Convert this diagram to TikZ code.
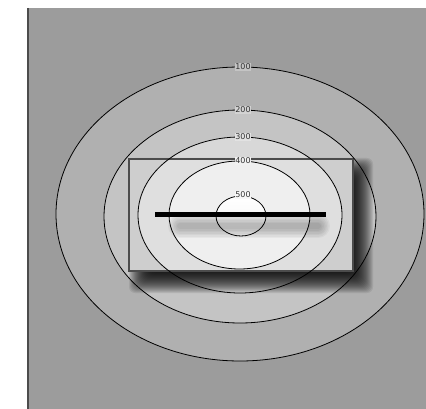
\documentclass[tikz,border=0pt]{standalone}
\usepackage{fontspec}
\setmainfont{DejaVu Sans}
\definecolor{bgout}{HTML}{9C9C9C}
\definecolor{ringA}{HTML}{B0B0B0}
\definecolor{ringB}{HTML}{C4C4C4}
\definecolor{ringC}{HTML}{D8D8D8}
\definecolor{ringD}{HTML}{ECECEC}
\definecolor{labelgray}{HTML}{333333}
\tikzset{
  contour/.style={draw=black, line width=0.8pt},
  lvl/.style={font=\fontsize{8}{8}\selectfont, text=labelgray, inner sep=0.5pt},
}
\begin{document}
\begin{tikzpicture}[x=1pt,y=-1pt]
\useasboundingbox (0,0) rectangle (426,409);
% background
\fill[bgout] (28,8) rectangle (426,409);
\draw[gray!60!black, line width=1.2pt] (28,8) -- (28,409);
% ellipse fills
\fill[ringA] (240,214) ellipse [x radius=184, y radius=147];
\fill[ringB] (240,216.5) ellipse [x radius=136, y radius=106.5];
\fill[ringC] (240,215) ellipse [x radius=102, y radius=78];
\fill[ringD] (239.5,215) ellipse [x radius=70.5, y radius=54];
\shade[top color=white, bottom color=ringD!60!white] (241,216) ellipse [x radius=25, y radius=20];
% rectangle shadow (outside the rectangle)
\begin{scope}[even odd rule]
  \clip (0,0) rectangle (426,409) (129,159) rectangle (353,271);
  \foreach \d in {-12,-11,...,12} {
    \fill[black, opacity=0.08, rounded corners=6pt] (141+\d,170+\d) rectangle (361-\d,281-\d);
  }
\end{scope}
% rectangle
\fill[white, opacity=0.18] (129,159) rectangle (353,271);
\draw[black!70, line width=1.2pt] (129,159) rectangle (353,271);
% contour lines
\draw[contour] (240,214) ellipse [x radius=184, y radius=147];
\draw[contour] (240,216.5) ellipse [x radius=136, y radius=106.5];
\draw[contour] (240,215) ellipse [x radius=102, y radius=78];
\draw[contour] (239.5,215) ellipse [x radius=70.5, y radius=54];
\draw[contour] (241,216) ellipse [x radius=25, y radius=20];
% thick line shadow
\foreach \w in {24,21,18,15,12,9,6} {
  \draw[black, opacity=0.04, line width=\w pt, line cap=round] (180,226) -- (318,226);
}
% thick line
\coordinate (la) at (155,214.5);
\coordinate (lb) at (326,214.5);
\draw[black, line width=5.5pt] (la) -- (lb);
% labels
\node[lvl, fill=ringA!75!white] (l100) at (243,67) {100};
\node[lvl, fill=ringB!75!white] (l200) at (243,110) {200};
\node[lvl, fill=ringC!75!white] (l300) at (243,137) {300};
\node[lvl, fill=ringD!75!white] (l400) at (243,161) {400};
\node[lvl, fill=ringD!40!white] (l500) at (243,195) {500};
\end{tikzpicture}
\end{document}
